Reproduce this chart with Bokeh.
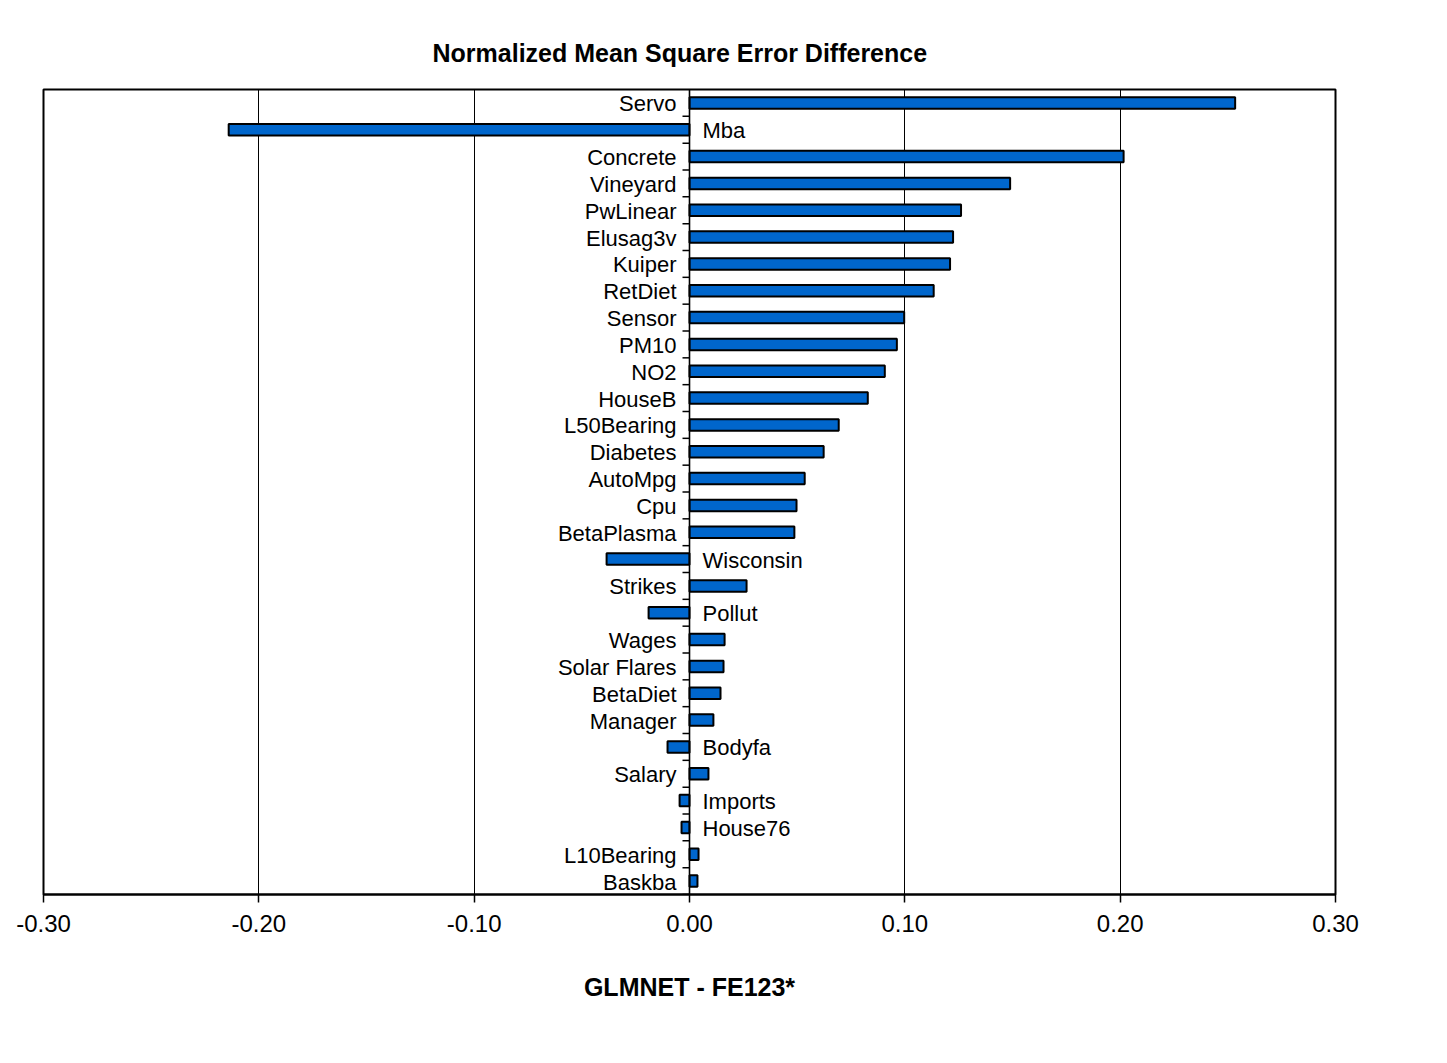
from bokeh.plotting import figure
from bokeh.models import ColumnDataSource, Range1d, FactorRange, FixedTicker, NumeralTickFormatter, Span, Title
from bokeh.transform import dodge
from bokeh.embed import file_html
from bokeh.resources import INLINE

# ---- data ----
categories = ["Servo", "Mba", "Concrete", "Vineyard", "PwLinear", "Elusag3v", "Kuiper",
              "RetDiet", "Sensor", "PM10", "NO2", "HouseB", "L50Bearing", "Diabetes",
              "AutoMpg", "Cpu", "BetaPlasma", "Wisconsin", "Strikes", "Pollut", "Wages",
              "Solar Flares", "BetaDiet", "Manager", "Bodyfa", "Salary", "Imports",
              "House76", "L10Bearing", "Baskba"]
values = [0.2534, -0.2140, 0.2016, 0.1489, 0.1261, 0.1224, 0.1210,
          0.1134, 0.0997, 0.0963, 0.0907, 0.0828, 0.0693, 0.0623,
          0.0535, 0.0497, 0.0487, -0.0385, 0.0265, -0.0190, 0.0163,
          0.0158, 0.0144, 0.0111, -0.0102, 0.0088, -0.0046,
          -0.0037, 0.0042, 0.0037]
x_ticks = [-0.3, -0.2, -0.1, 0.0, 0.1, 0.2, 0.3]
title_text = "Normalized Mean Square Error Difference"
x_label = "GLMNET - FE123*"

FONT = "Liberation Sans"

pos_cats = [c for c, v in zip(categories, values) if v >= 0]
neg_cats = [c for c, v in zip(categories, values) if v < 0]
zeros = [0.0] * len(categories)

src = ColumnDataSource(dict(cat=categories, val=values, zero=zeros))
pos_src = ColumnDataSource(dict(cat=pos_cats, zero=[0.0] * len(pos_cats)))
neg_src = ColumnDataSource(dict(cat=neg_cats, zero=[0.0] * len(neg_cats)))

p = figure(frame_width=1292, frame_height=805,
           min_border_left=43, min_border_right=90,
           min_border_top=89, min_border_bottom=140,
           x_range=Range1d(-0.3, 0.3),
           y_range=FactorRange(factors=list(reversed(categories)), range_padding=0),
           y_axis_location=None,
           output_backend="svg", toolbar_location=None, title=None)

t = Title(text=title_text, align="left", text_font=FONT, text_font_size="25px",
          text_font_style="bold", text_color="black", standoff=45, offset=389)
p.add_layout(t, "above")

p.background_fill_color = "white"
p.border_fill_color = "white"
p.outline_line_color = "black"
p.outline_line_width = 2

# grid
p.ygrid.visible = False
p.xgrid.ticker = FixedTicker(ticks=x_ticks)
p.xgrid.grid_line_color = "black"
p.xgrid.grid_line_width = 1

# x axis
ax = p.xaxis[0]
ax.ticker = FixedTicker(ticks=x_ticks)
ax.formatter = NumeralTickFormatter(format="0.00")
ax.axis_line_color = "black"
ax.axis_line_width = 2
ax.major_tick_line_color = "black"
ax.major_tick_line_width = 1.5
ax.major_tick_out = 8
ax.major_tick_in = 0
ax.minor_tick_line_color = None
ax.major_label_text_font = FONT
ax.major_label_text_font_size = "24px"
ax.major_label_text_color = "black"
ax.major_label_standoff = 12
ax.axis_label = x_label
ax.axis_label_text_font = FONT
ax.axis_label_text_font_size = "25px"
ax.axis_label_text_font_style = "bold"
ax.axis_label_text_color = "black"
ax.axis_label_standoff = 38

# zero axis line
p.add_layout(Span(location=0, dimension="height", line_color="black", line_width=1.6))

# row-boundary ticks on the zero axis (pointing left)
tick_len = 7.0 / (1292 / 0.6)
p.segment(x0=-tick_len, x1=0, y0=dodge("cat", -0.5, range=p.y_range),
          y1=dodge("cat", -0.5, range=p.y_range), source=src,
          line_color="black", line_width=1.5)

# bars
p.hbar(y="cat", left="zero", right="val", height=0.43, source=src,
       fill_color="#0066CC", line_color="black", line_width=2)

# labels
p.text(x="zero", y="cat", text="cat", source=pos_src, x_offset=-13, y_offset=1,
       text_align="right", text_baseline="middle",
       text_font={"value": FONT}, text_font_size="22px", text_color="black")
p.text(x="zero", y="cat", text="cat", source=neg_src, x_offset=13, y_offset=1,
       text_align="left", text_baseline="middle",
       text_font={"value": FONT}, text_font_size="22px", text_color="black")

open("out.html", "w").write(file_html(p, INLINE))
